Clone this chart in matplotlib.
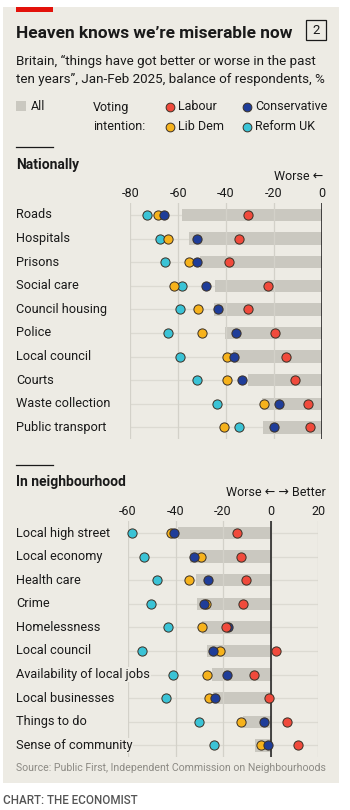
import matplotlib
matplotlib.use('Agg')
import matplotlib.pyplot as plt
from matplotlib.patches import Rectangle
from matplotlib import transforms

plt.rcParams['font.family'] = ['Roboto', 'DejaVu Sans']

# ---- data ----
nat_labels = ['Roads', 'Hospitals', 'Prisons', 'Social care', 'Council housing', 'Police',
              'Local council', 'Courts', 'Waste collection', 'Public transport']
nat_all = [-58.5, -55.6, -50.9, -44.8, -44.9, -40.5, -37.0, -30.7, -25.0, -24.7]
nat_lab = [-30.7, -34.7, -38.7, -22.3, -31.0, -19.5, -15.1, -11.2, -5.6, -4.9]
nat_con = [-65.9, -52.2, -52.0, -48.3, -43.3, -36.0, -36.6, -33.2, -17.9, -20.1]
nat_lib = [-68.6, -64.2, -55.6, -61.9, -51.5, -50.1, -39.6, -39.6, -24.1, -40.9]
nat_ref = [-73.1, -67.5, -65.3, -58.2, -59.4, -64.3, -59.3, -52.3, -43.9, -34.6]

loc_labels = ['Local high street', 'Local economy', 'Health care', 'Crime', 'Homelessness',
              'Local council', 'Availability of local jobs', 'Local businesses',
              'Things to do', 'Sense of community']
loc_all = [-39.0, -33.9, -31.4, -30.8, -29.0, -26.6, -24.7, -24.2, -11.5, -6.6]
loc_lab = [-14.3, -12.4, -10.5, -11.6, -18.9, 2.5, -7.0, -0.7, 7.0, 11.6]
loc_con = [-40.6, -32.1, -26.5, -28.2, -17.9, -24.1, -18.5, -23.3, -2.9, -1.0]
loc_lib = [-41.8, -29.2, -34.3, -27.2, -28.7, -21.3, -26.6, -25.8, -12.4, -4.1]
loc_ref = [-58.4, -53.1, -47.8, -50.3, -43.0, -53.9, -41.0, -44.0, -30.1, -24.0]

nat_ticks = [-80, -60, -40, -20, 0]
loc_ticks = [-60, -40, -20, 0, 20]

c_lab = '#f04a3c'
c_con = '#1f3d99'
c_lib = '#f6b21c'
c_ref = '#3bc3d6'
c_bar = '#cac8c0'
c_bg = '#edebe4'
c_edge = '#3a3026'
c_txt = '#1a1a1a'

W, H = 350, 810
fig = plt.figure(figsize=(W / 100, H / 100), dpi=100)
fig.patch.set_facecolor('white')

def fx(px):
    return px / W

def fy(py):
    return 1 - py / H

# panel background + red tag
fig.patches.append(Rectangle((fx(3), fy(783)), fx(339) - fx(3), fy(7) - fy(783),
                             transform=fig.transFigure, facecolor=c_bg, edgecolor='none', zorder=-2))
fig.patches.append(Rectangle((fx(16), fy(12)), fx(53) - fx(16), fy(7) - fy(12),
                             transform=fig.transFigure, facecolor='#e3120b', edgecolor='none', zorder=-1))

fig.text(fx(16), fy(33), 'Heaven knows we\u2019re miserable now', fontsize=12.4, fontweight='bold',
         color=c_txt, va='center', ha='left')
fig.patches.append(Rectangle((fx(306), fy(40)), fx(326) - fx(306), fy(20) - fy(40),
                             transform=fig.transFigure, facecolor='none', edgecolor=c_txt,
                             linewidth=0.9, zorder=2))
fig.text(fx(316), fy(30), '2', fontsize=9.5, color=c_txt, va='center', ha='center')
fig.text(fx(16), fy(61), 'Britain, \u201cthings have got better or worse in the past', fontsize=9.6,
         color=c_txt, va='center', ha='left')
fig.text(fx(16), fy(79), 'ten years\u201d, Jan-Feb 2025, balance of respondents, %', fontsize=9.6,
         color=c_txt, va='center', ha='left')

# legend
fs = 9.0
fig.patches.append(Rectangle((fx(16), fy(111)), fx(26) - fx(16), fy(101) - fy(111),
                             transform=fig.transFigure, facecolor=c_bar, edgecolor='none', zorder=2))
fig.text(fx(31), fy(106), 'All', fontsize=fs, color=c_txt, va='center')
fig.text(fx(93), fy(107), 'Voting', fontsize=fs, color=c_txt, va='center')
fig.text(fx(93), fy(126), 'intention:', fontsize=fs, color=c_txt, va='center')
leg = [(170, 107, c_lab, 'Labour'), (247, 107, c_con, 'Conservative'),
       (170, 127, c_lib, 'Lib Dem'), (247, 127, c_ref, 'Reform UK')]
for px, py, col, name in leg:
    fig.lines.append(plt.Line2D([fx(px)], [fy(py)], marker='o', markersize=6.3, markerfacecolor=col,
                                markeredgecolor=c_edge, markeredgewidth=0.7, transform=fig.transFigure))
    fig.text(fx(px + 8), fy(py), name, fontsize=fs, color=c_txt, va='center')


def panel(top_px, x0_px, x1_px, xlim, ticks, labels, v_all, v_lab, v_con, v_lib, v_ref,
          title, title_y, sep_y, dir_text, dir_y, dir_x):
    n = len(labels)
    step = 23.6
    y_top = top_px - step / 2
    y_bot = top_px + (n - 1) * step + step / 2
    ax = fig.add_axes([fx(x0_px), fy(y_bot), fx(x1_px) - fx(x0_px), fy(y_top) - fy(y_bot)])
    ax.set_facecolor('none')
    ax.set_xlim(*xlim)
    ax.set_ylim(n - 0.5, -0.5)
    for s in ax.spines.values():
        s.set_visible(False)
    ax.set_yticks([])
    ax.xaxis.tick_top()
    ax.set_xticks(ticks)
    ax.set_xticklabels([str(t) for t in ticks])
    ax.tick_params(axis='x', length=0, pad=2, labelsize=fs, labelcolor=c_txt)
    ax.grid(axis='x', color='#d3d1c9', linewidth=0.9, zorder=0)
    ys = list(range(n))
    ax.hlines(ys, xlim[0], xlim[1], color='#dcdad2', linewidth=0.9, zorder=0.5)
    ax.barh(ys, v_all, height=0.52, color=c_bar, zorder=1)
    ax.axvline(0, color=c_txt, linewidth=1.1, zorder=2)
    for vals, col in [(v_ref, c_ref), (v_lib, c_lib), (v_con, c_con), (v_lab, c_lab)]:
        ax.scatter(vals, ys, s=44, color=col, edgecolor=c_edge, linewidth=0.7, zorder=3, clip_on=False)
    tr = transforms.blended_transform_factory(fig.transFigure, ax.transData)
    for i, lab in enumerate(labels):
        ax.text(fx(16), i, lab, transform=tr, fontsize=9.2, color=c_txt, va='center', ha='left',
                bbox=dict(facecolor=c_bg, edgecolor='none', pad=0.6), zorder=4)
    fig.lines.append(plt.Line2D([fx(16), fx(53)], [fy(sep_y), fy(sep_y)], color=c_txt,
                                linewidth=0.9, transform=fig.transFigure))
    fig.text(fx(16), fy(title_y), title, fontsize=10, fontweight='bold', color=c_txt, va='center')
    fig.text(fx(dir_x), fy(dir_y), dir_text, fontsize=fs, color=c_txt, va='center', ha='right')
    return ax


panel(215, 130.3, 321.7, (-80, 0), nat_ticks, nat_labels, nat_all, nat_lab, nat_con, nat_lib, nat_ref,
      'Nationally', 165, 147, 'Worse \u2190', 176, 323)
panel(533, 128, 318, (-60, 20), loc_ticks, loc_labels, loc_all, loc_lab, loc_con, loc_lib, loc_ref,
      'In neighbourhood', 482, 465, 'Worse \u2190 \u2192 Better', 493, 326)

fig.text(fx(16), fy(768), 'Source: Public First, Independent Commission on Neighbourhoods', fontsize=7.6,
         color='#8c8a84', va='center')
fig.text(fx(3), fy(801), 'CHART: THE ECONOMIST', fontsize=8.4, fontweight='medium', color='#555555',
         va='center')

fig.savefig('out.png', dpi=100, facecolor='white')
